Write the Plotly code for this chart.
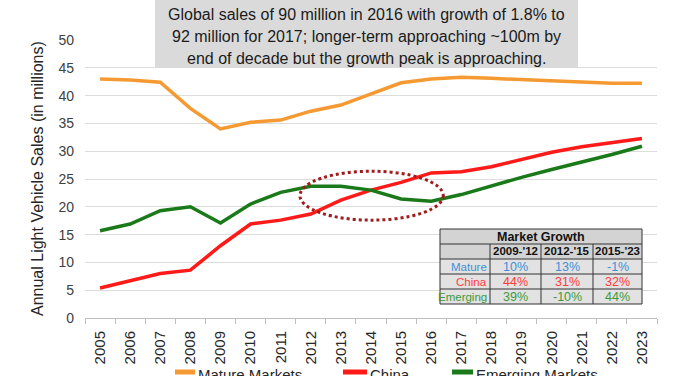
import plotly.graph_objects as go

years = [str(y) for y in range(2005, 2024)]
mature = [43.0, 42.8, 42.4, 37.7, 34.0, 35.2, 35.6, 37.2, 38.3, 40.3, 42.3, 43.0, 43.3, 43.1, 42.9, 42.6, 42.4, 42.2, 42.2]
china = [5.4, 6.7, 8.0, 8.6, 13.0, 16.9, 17.6, 18.7, 21.2, 23.0, 24.4, 26.1, 26.3, 27.2, 28.5, 29.8, 30.8, 31.6, 32.3]
emerging = [15.7, 16.9, 19.3, 20.0, 17.1, 20.5, 22.6, 23.7, 23.7, 23.0, 21.4, 21.0, 22.2, 23.8, 25.3, 26.7, 28.0, 29.4, 30.9]

series_names = ["Mature Markets", "China", "Emerging Markets"]
series_colors = ["#f59a32", "#ff1a1a", "#1a7a1a"]

table_title = "Market Growth"
table_periods = ["2009-'12", "2012-'15", "2015-'23"]
table_rows = ["Mature", "China", "Emerging"]
table_values = [["10%", "13%", "-1%"], ["44%", "31%", "32%"], ["39%", "-10%", "44%"]]
table_colors = ["#3f8fd8", "#ff3b3b", "#3c9a3c"]

title_lines = [
    "Global sales of 90 million in 2016 with growth of 1.8% to",
    "92 million for 2017; longer-term approaching ~100m by",
    "end of decade but the growth peak is approaching.",
]

FONT = "Arial, Liberation Sans, sans-serif"
W, H = 700, 376
L, R, T, B = 85, 43, 40, 58
PW, PH = W - L - R, H - T - B


def px(x):
    return (x - L) / PW


def py(y):
    return (H - B - y) / PH


fig = go.Figure()
for name, vals, col in zip(series_names, [mature, china, emerging], series_colors):
    fig.add_trace(go.Scatter(x=years, y=vals, mode="lines", name=name,
                             line=dict(color=col, width=3.5), showlegend=False))

shapes = []
annotations = []

# title box
shapes.append(dict(type="rect", xref="paper", yref="paper", x0=px(155), x1=px(578),
                   y0=py(68), y1=py(0), fillcolor="#dadada", line=dict(width=0), layer="above"))
for i, t in enumerate(title_lines):
    annotations.append(dict(xref="paper", yref="paper", x=px(366), y=py(15 + i * 21.7),
                            text=t, showarrow=False, xanchor="center", yanchor="middle",
                            font=dict(family=FONT, size=16, color="#1a1a1a")))

# ellipse
shapes.append(dict(type="circle", xref="x", yref="y", x0=6.64, x1=11.4, y0=17.6, y1=26.4,
                   line=dict(color="#a01c1c", width=3, dash="dot"), layer="above"))

# table
cols = [440, 490, 541, 593, 642]
rows = [229, 244, 259, 274, 289, 304]
for ri in range(5):
    fill = "#d3d3d3" if ri < 2 else "#e2e2e2"
    shapes.append(dict(type="rect", xref="paper", yref="paper", x0=px(cols[0]), x1=px(cols[-1]),
                       y0=py(rows[ri + 1]), y1=py(rows[ri]), fillcolor=fill,
                       line=dict(width=0), layer="above"))
for r_ in rows:
    shapes.append(dict(type="line", xref="paper", yref="paper", x0=px(cols[0]), x1=px(cols[-1]),
                       y0=py(r_), y1=py(r_), line=dict(color="#333333", width=1), layer="above"))
for ci, c in enumerate(cols):
    top = rows[0] if ci in (0, len(cols) - 1) else rows[1]
    shapes.append(dict(type="line", xref="paper", yref="paper", x0=px(c), x1=px(c),
                       y0=py(rows[-1]), y1=py(top), line=dict(color="#333333", width=1), layer="above"))

annotations.append(dict(xref="paper", yref="paper", x=px((cols[0] + cols[-1]) / 2), y=py(236.5),
                        text="<b>" + table_title + "</b>", showarrow=False, xanchor="center",
                        yanchor="middle", font=dict(family=FONT, size=12.5, color="#111111")))
for j, p in enumerate(table_periods):
    annotations.append(dict(xref="paper", yref="paper", x=px((cols[j + 1] + cols[j + 2]) / 2), y=py(251.5),
                            text="<b>" + p + "</b>", showarrow=False, xanchor="center", yanchor="middle",
                            font=dict(family=FONT, size=11.5, color="#111111")))
for i, (lab, vals, col) in enumerate(zip(table_rows, table_values, table_colors)):
    yc = py((rows[i + 2] + rows[i + 3]) / 2)
    annotations.append(dict(xref="paper", yref="paper", x=px(cols[1] - 1), y=yc, text=lab,
                            showarrow=False, xanchor="right", yanchor="middle",
                            font=dict(family=FONT, size=11.5, color=col)))
    for j, v in enumerate(vals):
        annotations.append(dict(xref="paper", yref="paper", x=px((cols[j + 1] + cols[j + 2]) / 2), y=yc,
                                text=v, showarrow=False, xanchor="center", yanchor="middle",
                                font=dict(family=FONT, size=12.5, color=col)))

# y-axis title
annotations.append(dict(xref="paper", yref="paper", x=px(37), y=py(179),
                        text="Annual Light Vehicle Sales (in millions)", textangle=-90,
                        showarrow=False, xanchor="center", yanchor="middle",
                        font=dict(family=FONT, size=16, color="#262626")))

# manual legend
leg = [(175, 195), (343, 367), (452, 473)]
for (a, b), name, col in zip(leg, series_names, series_colors):
    shapes.append(dict(type="line", xref="paper", yref="paper", x0=px(a), x1=px(b),
                       y0=py(372), y1=py(372), line=dict(color=col, width=5)))
    annotations.append(dict(xref="paper", yref="paper", x=px(b + 1), y=py(374), text=name,
                            showarrow=False, xanchor="left", yanchor="middle",
                            font=dict(family=FONT, size=15, color="#262626")))

fig.update_layout(
    width=W, height=H, margin=dict(l=L, r=R, t=T, b=B, autoexpand=False),
    paper_bgcolor="white", plot_bgcolor="white",
    font=dict(family=FONT, color="#404040"),
    shapes=shapes, annotations=annotations,
    xaxis=dict(type="category", tickangle=-90, tickfont=dict(size=15, color="#262626"),
               showline=True, linecolor="#bfbfbf", linewidth=1, ticks="outside",
               ticklen=5, tickcolor="#bfbfbf", tickson="boundaries", showgrid=False,
               ticklabelstandoff=6, range=[-0.5, len(years) - 0.5]),
    yaxis=dict(range=[0, 50], dtick=5, showgrid=True, gridcolor="#dcdcdc", gridwidth=1,
               zeroline=False, showline=False, tickfont=dict(size=14, color="#404040"),
               ticks="", ticklabelstandoff=10),
)

fig.write_html("out.html", config={"displayModeBar": False},
               post_script="document.body.style.margin='0px';document.body.style.overflow='hidden';")
